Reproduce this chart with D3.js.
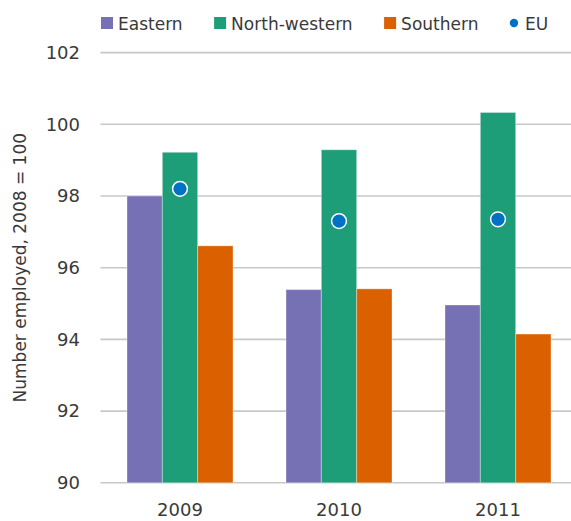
<!DOCTYPE html>
<html><head><meta charset="utf-8">
<script src="https://cdn.jsdelivr.net/npm/d3@7"></script>
<style>html,body{margin:0;padding:0;background:#fff;}svg{display:block;font-family:"DejaVu Sans",sans-serif;}</style>
</head><body>
<svg id="chart" width="571" height="521"></svg>
<script>
const years = ["2009", "2010", "2011"];
const seriesNames = ["Eastern", "North-western", "Southern"];
const eastern = [98.0, 95.39, 94.96];
const northWestern = [99.22, 99.29, 100.33];
const southern = [96.61, 95.41, 94.15];
const eu = [98.2, 97.3, 97.35];
const yTicks = [90, 92, 94, 96, 98, 100, 102];
const colors = ["#7671b4", "#1e9e78", "#db6000"];
const euColor = "#0071c5";
const textColor = "#3a3a3a";

(function () {
const values = [eastern, northWestern, southern];
const svg = d3.select("#chart");
const pLeft = 100.5, pRight = 577.5, pTop = 52.6, pBottom = 482.8;

const x0 = d3.scaleBand().domain(years).range([pLeft, pRight]).paddingInner(1/3).paddingOuter(1/6);
const x1 = d3.scaleBand().domain(seriesNames).range([0, x0.bandwidth()]);
const y = d3.scaleLinear().domain([90, 102]).range([pBottom, pTop]);

// gridlines
svg.append("g").selectAll("line").data(yTicks).join("line")
  .attr("x1", pLeft).attr("x2", 571)
  .attr("y1", d => y(d)).attr("y2", d => y(d))
  .attr("stroke", "#c8c8c8").attr("stroke-width", 1.6);

// y axis labels
const yAxis = d3.axisLeft(y).tickValues(yTicks).tickSize(0).tickPadding(0).tickFormat(d3.format("d"));
const ya = svg.append("g").attr("transform", `translate(80,0)`).call(yAxis);
ya.select(".domain").remove();
ya.selectAll("text").attr("font-size", 18).attr("fill", textColor).attr("font-family", "DejaVu Sans");

// x axis labels
const xAxis = d3.axisBottom(x0).tickSize(0).tickPadding(0);
const xa = svg.append("g").attr("transform", `translate(0,${pBottom})`).call(xAxis);
xa.select(".domain").remove();
xa.selectAll("text").attr("font-size", 18).attr("fill", textColor).attr("font-family", "DejaVu Sans")
  .attr("y", 33).attr("dy", 0);

// bars
const groups = svg.append("g").selectAll("g").data(years).join("g")
  .attr("transform", d => `translate(${x0(d)},0)`);
groups.selectAll("rect").data((d, i) => seriesNames.map((s, j) => ({s, j, v: values[j][i]}))).join("rect")
  .attr("x", d => x1(d.s)).attr("width", x1.bandwidth())
  .attr("y", d => y(d.v)).attr("height", d => y(90) - y(d.v))
  .attr("fill", d => colors[d.j])
  .attr("stroke", "#fff").attr("stroke-opacity", 0.35).attr("stroke-width", 1);

// EU dots
svg.append("g").selectAll("circle").data(years).join("circle")
  .attr("cx", d => x0(d) + x0.bandwidth() / 2)
  .attr("cy", (d, i) => y(eu[i]))
  .attr("r", 7.4)
  .attr("fill", euColor).attr("stroke", "#fff").attr("stroke-width", 1.5);

// y axis title
svg.append("text")
  .attr("transform", `translate(26,${(pTop + pBottom) / 2}) rotate(-90)`)
  .attr("text-anchor", "middle").attr("font-size", 17).attr("fill", textColor)
  .text("Number employed, 2008 = 100");

// legend
const legend = svg.append("g");
let lx = 101;
const legendItems = seriesNames.map((s, i) => ({name: s, color: colors[i], type: "rect"}))
  .concat([{name: "EU", color: euColor, type: "circle"}]);
legendItems.forEach(item => {
  let markerW;
  if (item.type === "rect") {
    legend.append("rect").attr("x", lx).attr("y", 17).attr("width", 12).attr("height", 12).attr("fill", item.color);
    markerW = 12;
  } else {
    legend.append("circle").attr("cx", lx + 4).attr("cy", 23).attr("r", 4.2).attr("fill", item.color);
    markerW = 8;
  }
  const t = legend.append("text").attr("x", lx + markerW + 5 + (item.type === "circle" ? 2 : 0)).attr("y", 29.5)
    .attr("font-size", 17).attr("fill", textColor).text(item.name);
  const w = t.node().getComputedTextLength();
  lx = lx + markerW + 5 + w + 31.5;
});
})();
</script>
</body></html>
